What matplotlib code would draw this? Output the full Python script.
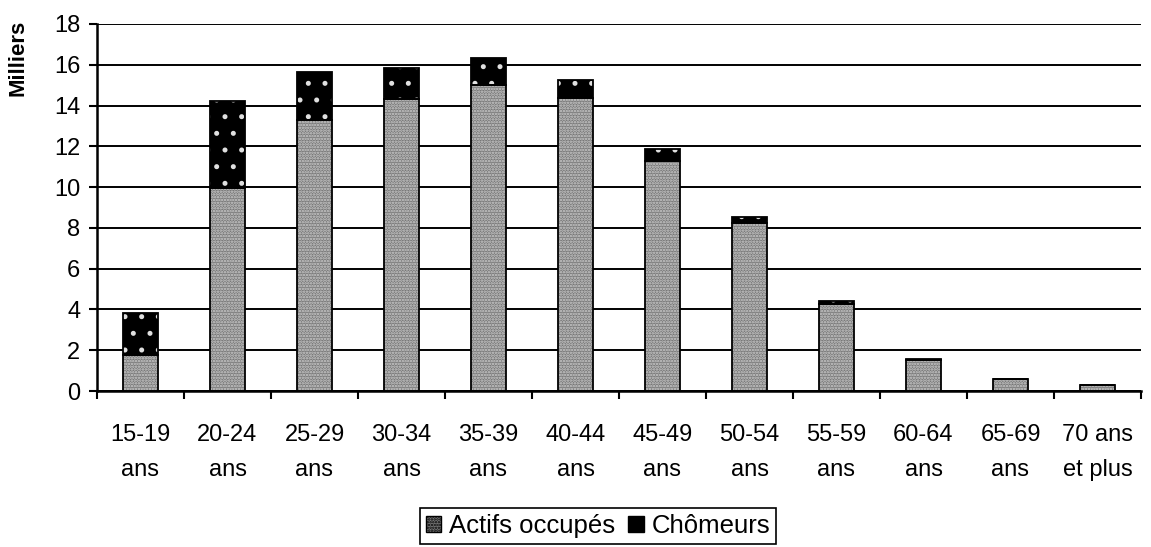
import matplotlib
matplotlib.use("Agg")
import matplotlib.pyplot as plt
import numpy as np
from matplotlib.patches import Patch

categories = ["15-19\nans", "20-24\nans", "25-29\nans", "30-34\nans", "35-39\nans",
              "40-44\nans", "45-49\nans", "50-54\nans", "55-59\nans", "60-64\nans",
              "65-69\nans", "70 ans\net plus"]
actifs = [1.76, 9.94, 13.3, 14.3, 15.0, 14.39, 11.3, 8.23, 4.25, 1.53, 0.57, 0.27]
chomeurs = [2.09, 4.26, 2.34, 1.54, 1.33, 0.88, 0.57, 0.32, 0.17, 0.03, 0.02, 0.01]
yticks = [0, 2, 4, 6, 8, 10, 12, 14, 16, 18]

plt.rcParams['font.family'] = ['Liberation Sans', 'DejaVu Sans']
plt.rcParams['hatch.linewidth'] = 1.2

fig = plt.figure(figsize=(11.51, 5.47), dpi=100)
ax = fig.add_axes([97/1151, 1-391/547, (1141-97)/1151, (391-24)/547])

x = np.arange(len(categories))
w = 0.41
ax.bar(x, actifs, w, facecolor='#787878', edgecolor='#cfcfcf', hatch='......', lw=0, zorder=3)
ax.bar(x, actifs, w, facecolor='none', edgecolor='black', lw=1.3, zorder=4)
ax.bar(x, chomeurs, w, bottom=actifs, facecolor='black', edgecolor='#e0e0e0', hatch='.', lw=0, zorder=3)
ax.bar(x, chomeurs, w, bottom=actifs, facecolor='none', edgecolor='black', lw=1.3, zorder=4)

ax.set_xlim(-0.5, len(categories)-0.5)
ax.set_ylim(0, 18)
ax.set_yticks(yticks)
ax.set_yticklabels([str(v) for v in yticks], fontsize=17)
ax.set_xticks(x)
ax.set_xticklabels(categories, fontsize=17, linespacing=1.75)
ax.tick_params(axis='x', length=0, pad=24)
ax.set_xticks(np.arange(len(categories)+1)-0.5, minor=True)
ax.tick_params(axis='x', which='minor', length=6, width=1.5, direction='out')
ax.tick_params(axis='y', length=6, width=1.5, direction='out', pad=6)
ax.grid(axis='y', color='black', lw=1.4, zorder=1)
for s in ['top', 'right']:
    ax.spines[s].set_visible(False)
for s in ['left', 'bottom']:
    ax.spines[s].set_linewidth(1.8)
    ax.spines[s].set_zorder(5)

fig.text(18/1151, 1-58/547, 'Milliers', rotation=90, fontsize=16, fontweight='bold',
         ha='center', va='center')

handles = [Patch(facecolor='#787878', edgecolor='black', hatch='......', lw=1),
           Patch(facecolor='black', edgecolor='black', lw=1)]
leg = fig.legend(handles, ['Actifs occupés', 'Chômeurs'], loc='center',
                 bbox_to_anchor=(598/1151, 1-526/547), ncol=2, fontsize=18.5,
                 frameon=True, fancybox=False, edgecolor='black', framealpha=1,
                 handlelength=0.6, handleheight=0.6, handletextpad=0.3,
                 columnspacing=0.5, borderpad=0.25, borderaxespad=0)
leg.get_frame().set_linewidth(1.2)

fig.savefig('out.png', dpi=100)
